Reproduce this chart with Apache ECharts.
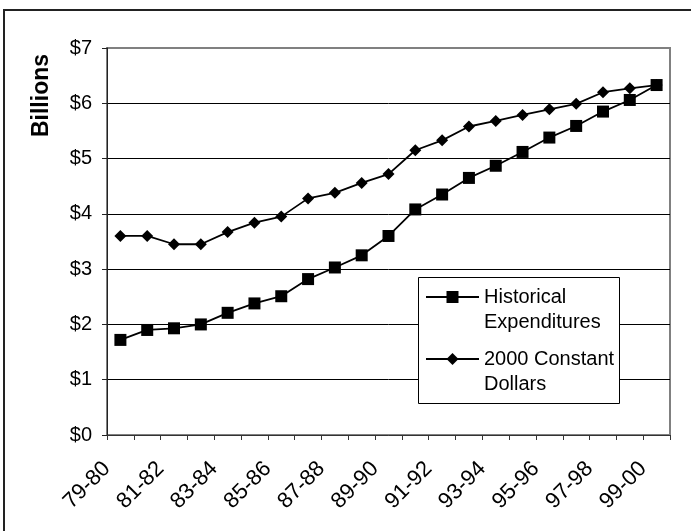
<!DOCTYPE html>
<html>
<head>
<meta charset="utf-8">
<script src="https://cdn.jsdelivr.net/npm/echarts@6/dist/echarts.min.js"></script>
<style>
html,body{margin:0;padding:0;background:#fff;}
#chart{width:691px;height:531px;}
</style>
</head>
<body>
<div id="chart"></div>
<script>
var categories = ['79-80','80-81','81-82','82-83','83-84','84-85','85-86','86-87','87-88','88-89','89-90','90-91','91-92','92-93','93-94','94-95','95-96','96-97','97-98','98-99','99-00'];
var historical = [1.72,1.90,1.93,2.00,2.21,2.38,2.51,2.82,3.03,3.25,3.60,4.08,4.35,4.65,4.87,5.12,5.38,5.59,5.85,6.06,6.33];
var constant2000 = [3.60,3.60,3.45,3.45,3.67,3.84,3.95,4.28,4.38,4.56,4.72,5.15,5.33,5.58,5.68,5.79,5.89,5.99,6.20,6.27,6.33];
var seriesNames = ['Historical\nExpenditures', '2000 Constant\nDollars'];
var yTitle = 'Billions';

var FONT = '"Liberation Sans", Arial, sans-serif';
var chart = echarts.init(document.getElementById('chart'), null, {renderer:'canvas'});
chart.setOption({
  animation: false,
  backgroundColor: '#ffffff',
  grid: {left:107, right:21, top:48, bottom:96, show:true, borderColor:'#808080', borderWidth:2, backgroundColor:'transparent'},
  xAxis: {
    type:'category', data: categories, boundaryGap:true,
    axisLine:{show:true, lineStyle:{color:'#333', width:1}},
    axisTick:{show:true, interval:0, length:5, lineStyle:{color:'#333'}},
    axisLabel:{interval:1, rotate:45, margin:17, padding:[0,19,0,0], color:'#000', fontSize:22, fontFamily:FONT},
    splitLine:{show:false}
  },
  yAxis: {
    type:'value', min:0, max:7, interval:1,
    axisLine:{show:true, lineStyle:{color:'#222', width:1}},
    axisTick:{show:true, length:5, lineStyle:{color:'#222'}},
    axisLabel:{formatter:'${value}', color:'#000', fontSize:20, fontFamily:FONT, margin:15},
    splitLine:{show:true, showMaxLine:false, showMinLine:false, lineStyle:{color:'#000', width:1}}
  },
  legend: {
    data: seriesNames, orient:'vertical', left:425, top:259.5, padding:0,
    itemWidth:53, itemHeight:15, itemGap:-13, itemTextGap:4,
    formatter: function (name) { return ' \n' + name; },
    textStyle:{fontSize:20, lineHeight:25, fontFamily:FONT, color:'#000'},
    z: 5
  },
  graphic: [
    {type:'rect', shape:{x:4, y:10, width:700, height:600}, style:{fill:'none', stroke:'#222', lineWidth:2}, z:0},
    {type:'rect', shape:{x:418.5, y:277.5, width:201, height:126}, style:{fill:'#fff', stroke:'#000', lineWidth:1}, z:3},
    {type:'text', x:42, y:95.5, rotation:Math.PI/2, style:{text:yTitle, font:'bold 23px "Liberation Sans", Arial, sans-serif', fill:'#000', align:'center', verticalAlign:'middle'}, z:3}
  ],
  series: [
    {name: seriesNames[1], type:'line', data: constant2000, symbol:'diamond', symbolSize:12, showAllSymbol:true,
     itemStyle:{color:'#000'}, lineStyle:{color:'#000', width:1.8}, z:2},
    {name: seriesNames[0], type:'line', data: historical, symbol:'rect', symbolSize:12, showAllSymbol:true,
     itemStyle:{color:'#000'}, lineStyle:{color:'#000', width:1.8}, z:2}
  ]
});
</script>
</body>
</html>
